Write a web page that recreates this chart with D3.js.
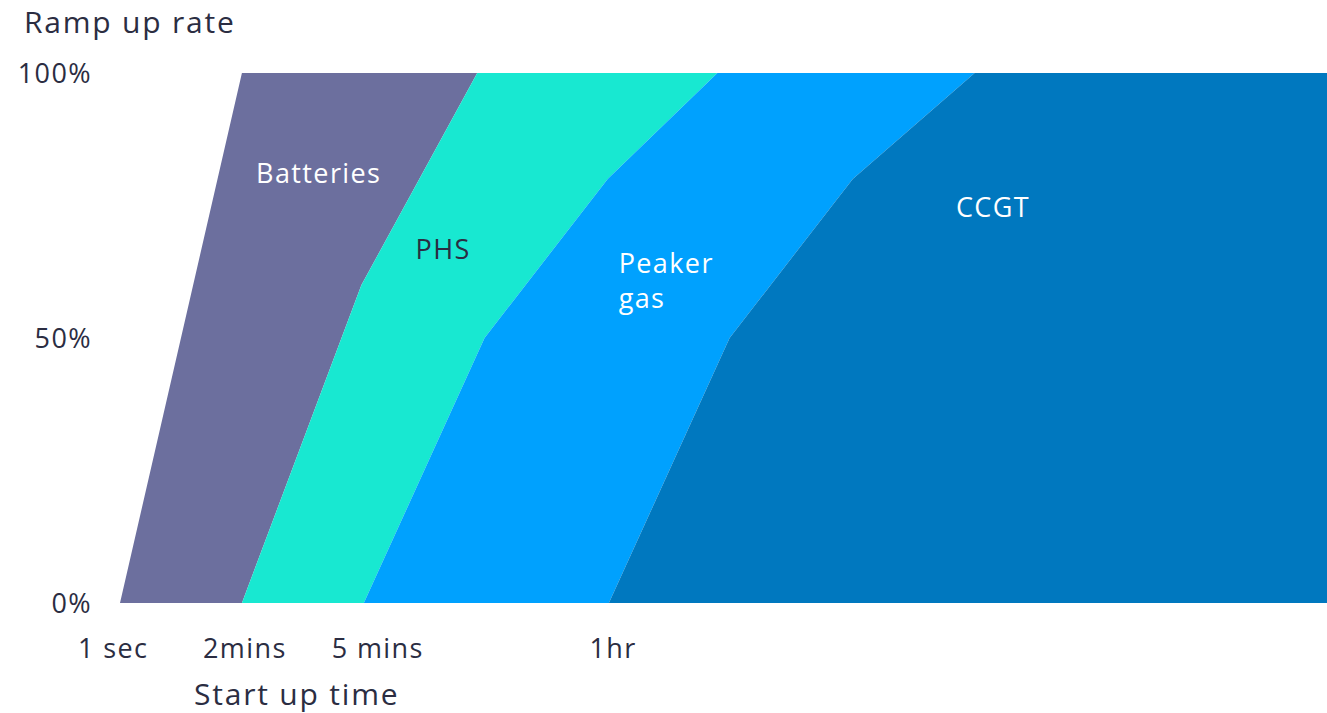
<!DOCTYPE html>
<html>
<head>
<meta charset="utf-8">
<script src="https://cdn.jsdelivr.net/npm/d3@7"></script>
<style>
  html, body { margin: 0; padding: 0; background: #fff; }
  svg { display: block; }
  text { font-family: "Open Sans", "Lato", sans-serif; }
</style>
</head>
<body>
<svg id="chart" width="1327" height="713"></svg>
<script>
// Start-up time is drawn on an ordinal-like position scale (one step per column);
// ramp-up rate is in percent of full output.
const technologies = ["Batteries", "PHS", "Peaker gas", "CCGT"];
const colors = ["#6c6f9e", "#18e8d1", "#00a1fe", "#0078bf"];

// Boundaries between neighbouring technologies: [position, ramp %]
const edgeLeft       = [[0, 0], [1, 100]];
const edgeBattPhs    = [[1, 0], [1.98, 60], [2.93, 100]];
const edgePhsPeaker  = [[2, 0], [2.99, 50], [4, 80], [4.9, 100]];
const edgePeakerCcgt = [[4.01, 0], [5, 50], [6.01, 80], [7.01, 100]];
const edgeRight      = [[9.9, 0], [9.9, 100]];
const edges = [edgeLeft, edgeBattPhs, edgePhsPeaker, edgePeakerCcgt, edgeRight];

const yTicks = [0, 50, 100];
const xTickValues = [-0.06, 1.02, 2.11, 4.04];
const xTickLabels = ["1 sec", "2mins", "5 mins", "1hr"];

// Region labels placed by position and ramp %
const regionLabels = [
  { lines: ["Batteries"], pos: 1.63, pct: 79.2, anchor: "middle", fill: "#ffffff" },
  { lines: ["PHS"], pos: 2.65, pct: 64.9, anchor: "middle", fill: "#2b2d42" },
  { lines: ["Peaker", "gas"], pos: 4.09, pct: 62.3, anchor: "start", fill: "#ffffff" },
  { lines: ["CCGT"], pos: 7.16, pct: 72.8, anchor: "middle", fill: "#ffffff" }
];

const svg = d3.select("#chart");
const x = d3.scaleLinear().domain([0, 9.9]).range([120, 1327]);
const y = d3.scaleLinear().domain([0, 100]).range([603, 73]);
const textColor = "#2b2d42";
const labelSize = "27px";
const labelSpacing = "1.4px";

const line = d3.line().x(d => x(d[0])).y(d => y(d[1]));

// Each region is bounded by its left edge and the next edge traced backwards
technologies.forEach((t, i) => {
  const poly = edges[i].concat(edges[i + 1].slice().reverse());
  svg.append("path")
    .attr("d", line(poly) + "Z")
    .attr("fill", colors[i]);
});

// Y axis
const yAxis = d3.axisLeft(y).tickValues(yTicks).tickFormat(d => d + "%").tickSize(0).tickPadding(0);
const gy = svg.append("g").attr("transform", "translate(92,0)").call(yAxis);
gy.select(".domain").remove();
gy.selectAll("text")
  .attr("fill", textColor)
  .style("font-family", "'Open Sans', Lato, sans-serif")
  .style("font-size", labelSize)
  .style("letter-spacing", labelSpacing)
  .attr("dy", "0.35em");

// X axis
const xAxis = d3.axisBottom(x).tickValues(xTickValues)
  .tickFormat((d, i) => xTickLabels[i]).tickSize(0).tickPadding(0);
const gx = svg.append("g").attr("transform", "translate(0,639)").call(xAxis);
gx.select(".domain").remove();
gx.selectAll("text")
  .attr("fill", textColor)
  .style("font-family", "'Open Sans', Lato, sans-serif")
  .style("font-size", labelSize)
  .style("letter-spacing", labelSpacing)
  .attr("dy", "0.71em");

// Axis titles
svg.append("text").attr("x", 24).attr("y", 33)
  .attr("fill", textColor).style("font-size", "30px").style("letter-spacing", "1.8px")
  .text("Ramp up rate");
svg.append("text").attr("x", 194).attr("y", 705)
  .attr("fill", textColor).style("font-size", "30px").style("letter-spacing", "1.8px")
  .text("Start up time");

// Region labels
regionLabels.forEach(l => {
  const t = svg.append("text")
    .attr("x", x(l.pos)).attr("y", y(l.pct))
    .attr("text-anchor", l.anchor)
    .attr("fill", l.fill)
    .style("font-size", labelSize)
    .style("letter-spacing", labelSpacing);
  l.lines.forEach((s, k) => {
    t.append("tspan").attr("x", x(l.pos)).attr("dy", k === 0 ? 0 : 35).text(s);
  });
});
</script>
</body>
</html>
